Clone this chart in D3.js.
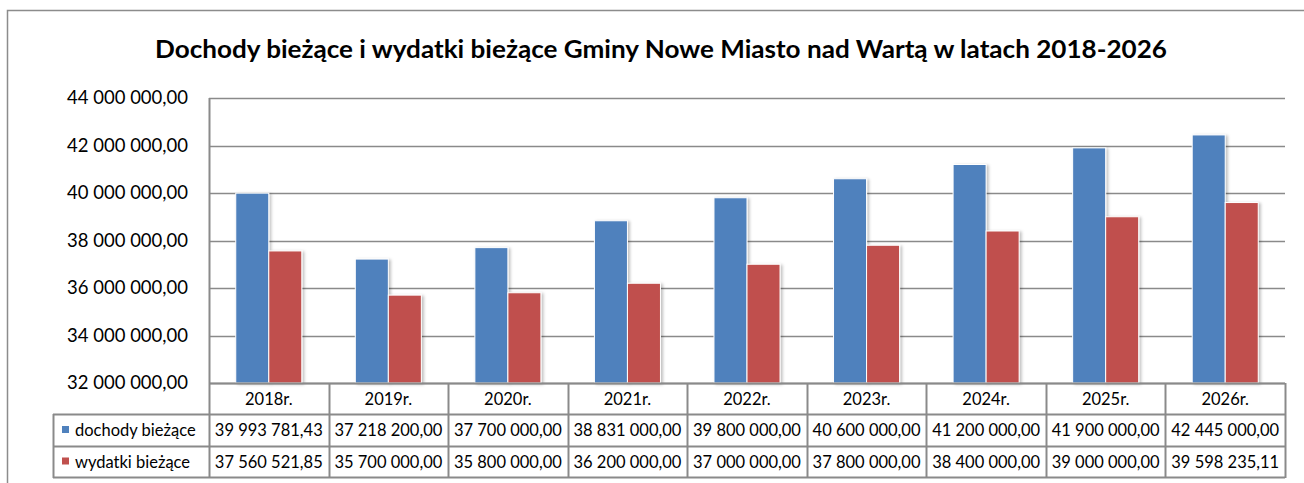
<!DOCTYPE html>
<html>
<head>
<meta charset="utf-8">
<script src="https://cdn.jsdelivr.net/npm/d3@7"></script>
<style>
  html, body { margin: 0; padding: 0; background: #fff; }
  svg { display: block; font-family: Lato, "Open Sans", sans-serif; }
</style>
</head>
<body>
<div id="chart"></div>
<script>
const years = ['2018r.', '2019r.', '2020r.', '2021r.', '2022r.', '2023r.', '2024r.', '2025r.', '2026r.'];
const seriesNames = ['dochody bieżące', 'wydatki bieżące'];
const dochody = [39993781.43, 37218200, 37700000, 38831000, 39800000, 40600000, 41200000, 41900000, 42445000];
const wydatki = [37560521.85, 35700000, 35800000, 36200000, 37000000, 37800000, 38400000, 39000000, 39598235.11];
const yTicks = [32e6, 34e6, 36e6, 38e6, 40e6, 42e6, 44e6];
const colors = ['#4F81BD', '#C0504D'];

const W = 1304, H = 483;
const plot = { left: 209, right: 1285, top: 98, bottom: 383 };
const rowH = [383, 414, 446, 477];
const tableLeft = 53;

const pl = d3.formatLocale({ decimal: ',', thousands: '\u00a0', grouping: [3], currency: ['', ''] });
const fmt = pl.format(',.2f');

const svg = d3.select('#chart').append('svg')
  .attr('width', W)
  .attr('height', H);

const defs = svg.append('defs');
const shadow = defs.append('filter').attr('id', 'shadow')
  .attr('x', '-20%').attr('y', '-5%').attr('width', '150%').attr('height', '115%');
shadow.append('feDropShadow')
  .attr('dx', 2).attr('dy', 1).attr('stdDeviation', 1.6)
  .attr('flood-color', '#000').attr('flood-opacity', 0.25);

// ramka całego wykresu
svg.append('rect')
  .attr('x', 7.5).attr('y', 10.5)
  .attr('width', W + 20).attr('height', H + 20)
  .attr('fill', 'none').attr('stroke', '#8c8c8c').attr('stroke-width', 1.5);

svg.append('text')
  .attr('x', 661).attr('y', 58)
  .attr('text-anchor', 'middle')
  .attr('font-weight', 'bold')
  .attr('font-size', 24.5)
  .attr('textLength', 1012)
  .attr('lengthAdjust', 'spacingAndGlyphs')
  .attr('fill', '#000')
  .text('Dochody bieżące i wydatki bieżące Gminy Nowe Miasto nad Wartą w latach 2018-2026');

const x = d3.scaleBand().domain(years).range([plot.left, plot.right]);
const x1 = d3.scaleBand().domain(seriesNames).range([0, x.bandwidth()]).paddingOuter(0.81);
const y = d3.scaleLinear().domain([32e6, 44e6]).range([plot.bottom, plot.top]);

// linie siatki
svg.append('g')
  .selectAll('line')
  .data(yTicks)
  .join('line')
  .attr('x1', plot.left).attr('x2', plot.right)
  .attr('y1', d => Math.round(y(d)) + 0.5).attr('y2', d => Math.round(y(d)) + 0.5)
  .attr('stroke', '#8a8a8a').attr('stroke-width', 1.5);

const yAxis = svg.append('g')
  .attr('transform', `translate(${plot.left},0)`)
  .call(d3.axisLeft(y).tickValues(yTicks).tickSize(0).tickPadding(21).tickFormat(fmt));
yAxis.select('.domain').remove();
yAxis.selectAll('text')
  .attr('font-family', 'Lato, "Open Sans", sans-serif')
  .attr('font-size', 18.5)
  .attr('fill', '#000');

const data = years.map((yr, i) => ({ year: yr, values: [dochody[i], wydatki[i]] }));

const groups = svg.append('g')
  .selectAll('g')
  .data(data)
  .join('g')
  .attr('transform', d => `translate(${x(d.year)},0)`);

groups.selectAll('rect')
  .data(d => d.values.map((v, j) => ({ key: seriesNames[j], v, j })))
  .join('rect')
  .attr('x', d => x1(d.key))
  .attr('y', d => y(d.v))
  .attr('width', x1.bandwidth())
  .attr('height', d => y(32e6) - y(d.v))
  .attr('fill', d => colors[d.j])
  .attr('stroke', '#fff')
  .attr('stroke-width', 1)
  .attr('filter', 'url(#shadow)');

// tabela danych
const table = svg.append('g');
const stroke = '#8a8a8a';

// poziome linie tabeli
table.append('line')
  .attr('x1', plot.left).attr('x2', plot.right)
  .attr('y1', rowH[0] + 0.5).attr('y2', rowH[0] + 0.5)
  .attr('stroke', stroke).attr('stroke-width', 2);
rowH.slice(1).forEach(yy => {
  table.append('line')
    .attr('x1', tableLeft).attr('x2', plot.right)
    .attr('y1', yy + 0.5).attr('y2', yy + 0.5)
    .attr('stroke', stroke).attr('stroke-width', 2);
});

// pionowe linie tabeli
table.append('line')
  .attr('x1', tableLeft + 0.5).attr('x2', tableLeft + 0.5)
  .attr('y1', rowH[1]).attr('y2', rowH[3] + 1)
  .attr('stroke', stroke).attr('stroke-width', 2);
const colEdges = years.map(d => x(d)).concat([plot.right]);
table.selectAll('line.col')
  .data(colEdges)
  .join('line')
  .attr('class', 'col')
  .attr('x1', d => Math.round(d) + 0.5).attr('x2', d => Math.round(d) + 0.5)
  .attr('y1', (d, i) => i === 0 ? plot.top : rowH[0])
  .attr('y2', rowH[3] + 1)
  .attr('stroke', stroke).attr('stroke-width', 2);

table.selectAll('text.hdr')
  .data(years)
  .join('text')
  .attr('class', 'hdr')
  .attr('x', d => x(d) + x.bandwidth() / 2)
  .attr('y', (rowH[0] + rowH[1]) / 2 + 6)
  .attr('text-anchor', 'middle')
  .attr('font-size', 16.5)
  .text(d => d);

const rows = [dochody, wydatki];
rows.forEach((vals, r) => {
  const cy = (rowH[r + 1] + rowH[r + 2]) / 2;
  table.append('rect')
    .attr('x', 62).attr('y', cy - 4)
    .attr('width', 7).attr('height', 7)
    .attr('fill', colors[r]);
  table.append('text')
    .attr('x', 75).attr('y', cy + 6)
    .attr('font-size', 16.5)
    .text(seriesNames[r]);
  table.selectAll(null)
    .data(vals)
    .join('text')
    .attr('x', (d, i) => x(years[i]) + x.bandwidth() / 2)
    .attr('y', cy + 6)
    .attr('text-anchor', 'middle')
    .attr('font-size', 16.5)
    .text(d => fmt(d));
});
</script>
</body>
</html>
